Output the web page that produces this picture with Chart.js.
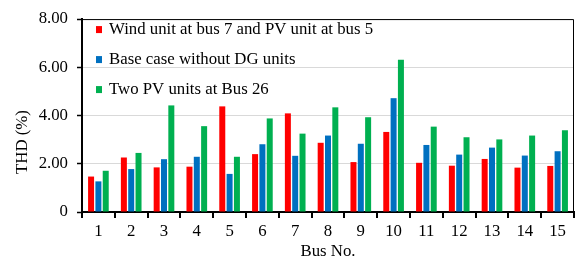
<!DOCTYPE html>
<html>
<head>
<meta charset="utf-8">
<script src="https://cdn.jsdelivr.net/npm/chart.js@4/dist/chart.umd.min.js"></script>
<style>
  html, body { margin: 0; padding: 0; background: #fff; }
  canvas { display: block; }
</style>
</head>
<body>
<canvas id="thdChart" width="586" height="262"></canvas>
<script>
// bus numbers on the x axis
const busLabels = ['1', '2', '3', '4', '5', '6', '7', '8', '9', '10', '11', '12', '13', '14', '15']

// THD (%)
const windPv = [1.47, 2.26, 1.85, 1.88, 4.38, 2.40, 4.09, 2.87, 2.07, 3.32, 2.04, 1.92, 2.20, 1.84, 1.91]
const baseCase = [1.27, 1.78, 2.19, 2.29, 1.58, 2.81, 2.33, 3.17, 2.83, 4.72, 2.78, 2.38, 2.67, 2.34, 2.52]
const twoPv = [1.71, 2.45, 4.42, 3.56, 2.29, 3.88, 3.25, 4.34, 3.93, 6.31, 3.54, 3.10, 3.01, 3.17, 3.39]

const seriesNames = [
  'Wind unit at bus 7 and PV unit at bus 5',
  'Base case without DG units',
  'Two PV units at Bus 26'
]
const seriesColors = ['#FF0000', '#0070C0', '#00B050']

// y tick values and their printed labels
const yTickValues = [0, 2, 4, 6, 8]
const yTickLabels = ['0', '2.00', '4.00', '6.00', '8.00']

const xTitle = 'Bus No.'
const yTitle = 'THD (%)'

const FONT = "'Liberation Serif', 'Times New Roman', serif"
const FONT_SIZE = 16.8

// legend inside the plot + frame + axis titles
const framePlugin = {
  id: 'framePlugin',
  afterDraw (chart) {
    const { ctx, chartArea } = chart
    ctx.save()

    // thin top / right frame
    ctx.strokeStyle = '#000'
    ctx.lineWidth = 1
    ctx.beginPath()
    ctx.moveTo(chartArea.left, chartArea.top + 0.5)
    ctx.lineTo(chartArea.right - 0.5, chartArea.top + 0.5)
    ctx.lineTo(chartArea.right - 0.5, chartArea.bottom)
    ctx.stroke()

    // legend, top left inside the chart area
    ctx.font = FONT_SIZE + 'px ' + FONT
    ctx.textBaseline = 'middle'
    ctx.textAlign = 'left'
    chart.data.datasets.forEach((ds, i) => {
      const y = chartArea.top + 10.5 + i * 30
      ctx.fillStyle = ds.backgroundColor
      ctx.fillRect(chartArea.left + 14, y - 3.5, 6, 7)
      ctx.fillStyle = '#000'
      ctx.fillText(ds.label, chartArea.left + 27, y + 0.5)
    })

    // axis titles
    ctx.textAlign = 'center'
    ctx.fillText(xTitle, (chartArea.left + chartArea.right) / 2, 252)
    ctx.translate(23, 142)
    ctx.rotate(-Math.PI / 2)
    ctx.fillText(yTitle, 0, 0)

    ctx.restore()
  }
}

const ctx = document.getElementById('thdChart').getContext('2d')
/* global Chart */
new Chart(ctx, {
  type: 'bar',
  data: {
    labels: busLabels,
    datasets: [windPv, baseCase, twoPv].map((data, i) => ({
      label: seriesNames[i],
      data,
      backgroundColor: seriesColors[i],
      borderWidth: 0,
      categoryPercentage: 0.67,
      barPercentage: 0.82
    }))
  },
  options: {
    responsive: false,
    animation: false,
    devicePixelRatio: 1,
    layout: { padding: { top: 16, right: 12, left: 0, bottom: 0 } },
    plugins: {
      legend: { display: false },
      title: { display: false },
      tooltip: { enabled: false }
    },
    scales: {
      x: {
        afterFit (s) { s.height = 50 },
        grid: {
          display: true,
          drawOnChartArea: false,
          offset: true,
          tickLength: 6,
          tickColor: '#000',
          lineWidth: 2
        },
        border: { color: '#000', width: 2 },
        ticks: {
          color: '#000',
          padding: 4,
          maxRotation: 0,
          font: { family: FONT, size: FONT_SIZE }
        }
      },
      y: {
        min: 0,
        max: 8,
        afterFit (s) { s.width = 82 },
        afterBuildTicks (s) { s.ticks = yTickValues.map(v => ({ value: v })) },
        grid: {
          color: '#d9d9d9',
          lineWidth: 1,
          tickLength: 5,
          tickColor: '#000',
          tickWidth: 1.5
        },
        border: { color: '#000', width: 2 },
        ticks: {
          color: '#000',
          padding: 9,
          font: { family: FONT, size: FONT_SIZE },
          callback: (v) => yTickLabels[yTickValues.indexOf(v)]
        }
      }
    }
  },
  plugins: [framePlugin]
})
</script>
</body>
</html>
